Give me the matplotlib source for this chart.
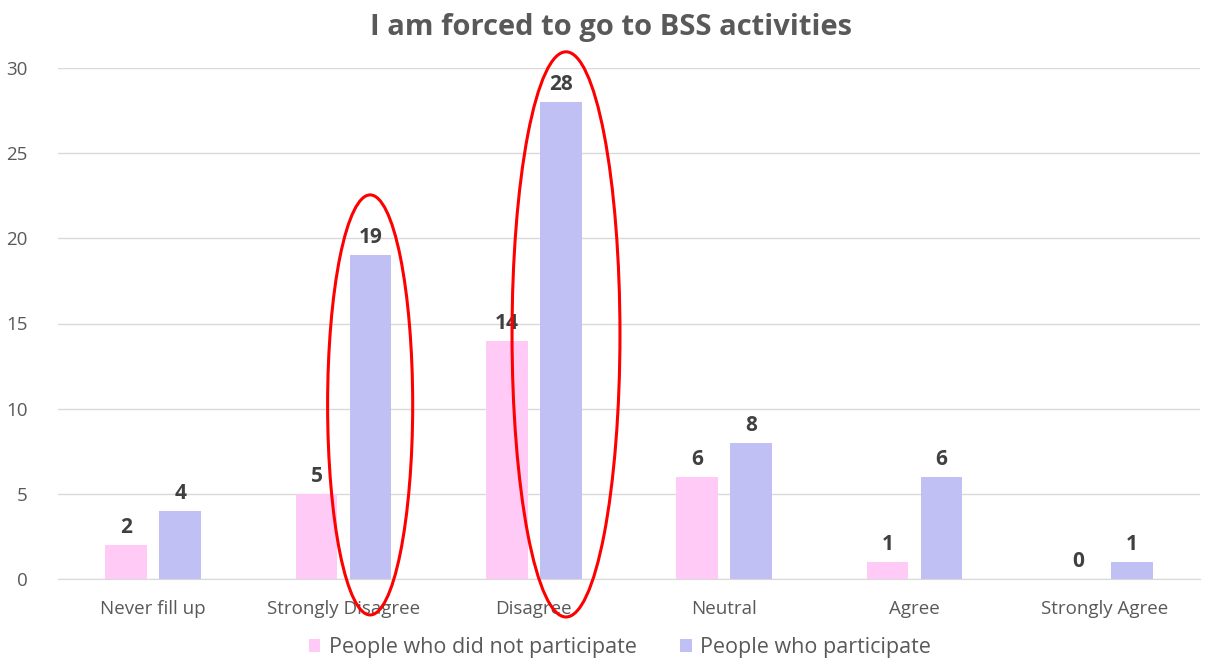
import matplotlib
matplotlib.use("Agg")
import matplotlib.pyplot as plt
from matplotlib.patches import Ellipse
import numpy as np

categories = ["Never fill up", "Strongly Disagree", "Disagree", "Neutral", "Agree", "Strongly Agree"]
not_participate = [2, 5, 14, 6, 1, 0]
participate = [4, 19, 28, 8, 6, 1]
series_names = ["People who did not participate", "People who participate"]
title = "I am forced to go to BSS activities"
yticks = [0, 5, 10, 15, 20, 25, 30]

plt.rcParams['font.family'] = ['Open Sans', 'DejaVu Sans']

fig = plt.figure(figsize=(12.16, 6.71), dpi=100)
ax = fig.add_axes([58/1216, 1-579/671, (1200-58)/1216, (579-68)/671])

x = np.arange(len(categories))
w = 0.22
off = 0.142
pink = "#FFCAF5"
blue = "#C1C0F5"
b1 = ax.bar(x - off, not_participate, w, color=pink, label=series_names[0], zorder=3)
b2 = ax.bar(x + off, participate, w, color=blue, label=series_names[1], zorder=3)

for bars, vals in ((b1, not_participate), (b2, participate)):
    for r, v in zip(bars, vals):
        ax.annotate(str(v), (r.get_x() + r.get_width()/2, v), xytext=(0, 5),
                    textcoords="offset points", ha="center", va="bottom",
                    fontsize=15, fontweight="bold", color="#404040")

ax.set_xlim(-0.5, len(categories) - 0.5)
ax.set_ylim(0, 30)
ax.set_yticks(yticks)
ax.set_xticks(x)
ax.set_xticklabels(categories)
ax.tick_params(axis='both', length=0, colors="#595959", labelsize=13.5)
ax.tick_params(axis='x', pad=15)
ax.tick_params(axis='y', pad=22)
ax.yaxis.grid(True, color="#D9D9D9", linewidth=1, zorder=0)
for s in ("top", "right", "left"):
    ax.spines[s].set_visible(False)
ax.spines["bottom"].set_color("#D9D9D9")
ax.set_axisbelow(True)

# red ellipse highlights
e1 = Ellipse((1.140, 10.22), 0.447, 24.66, fill=False, edgecolor="#FF0000", linewidth=2.2, zorder=5, clip_on=False)
e2 = Ellipse((2.169, 14.36), 0.567, 33.18, fill=False, edgecolor="#FF0000", linewidth=2.2, zorder=5, clip_on=False)
ax.add_patch(e1)
ax.add_patch(e2)

fig.text(611/1216, 1-27/671, title, ha="center", va="center", fontsize=21,
         fontweight="bold", color="#595959")

leg = fig.legend(loc="center", bbox_to_anchor=(620/1216, 1-648/671), ncol=2, frameon=False,
                 fontsize=15.5, handlelength=0.55, handleheight=0.55, handletextpad=0.4,
                 columnspacing=2.0, labelcolor="#595959")

fig.savefig("out.png", dpi=100)
